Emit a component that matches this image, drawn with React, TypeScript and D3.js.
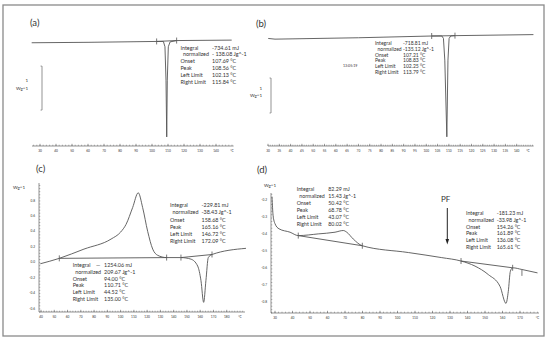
import * as d3 from "d3";

type Pt = [number, number];
type Row = [string, string];

// ---------- (a) ----------
const tempTicksA = [30, 40, 50, 60, 70, 80, 90, 100, 110, 120, 130, 140];
const curveA: Pt[] = [
  [24.8, -0.04], [60, -0.03], [102.9, -0.01], [107.1, -0.01], [108.1, -0.13],
  [108.75, -0.89], [109.2, -2.18], [109.56, -0.89], [110.2, -0.13], [111.3, -0.02],
  [115.4, 0.01], [149.8, 0.02],
];
const limitsA: Pt[] = [[102.9, -0.01], [115.4, 0.01]];
const barA: Pt = [-0.57, -1.57];
const statsA: Row[] = [
  ["Integral", "-734.61 mJ"],
  ["normalized", "- 138.08 Jg^-1"],
  ["Onset", "107.69 °C"],
  ["Peak", "108.56 °C"],
  ["Left Limit", "102.13 °C"],
  ["Right Limit", "115.84 °C"],
];

// ---------- (b) ----------
const tempTicksB = [
  30, 35, 40, 45, 50, 55, 60, 65, 70, 75, 80, 85, 90, 95, 100, 105, 110, 115,
  120, 125, 130, 135, 140,
];
const curveB: Pt[] = [
  [30.1, -0.07], [33.1, -0.09], [70, -0.05], [102.4, 0], [106.9, 0], [107.6, -0.07],
  [108.2, -0.69], [109.1, -2.88], [109.6, -0.69], [110.1, -0.07], [110.8, 0],
  [112.7, 0.01], [147.4, 0.04],
];
const limitsB: Pt[] = [[102.4, 0], [112.7, 0.01]];
const barB: Pt = [-1.2, -2.2];
const statsB: Row[] = [
  ["Integral", "-718.81 mJ"],
  ["normalized", "-135.12 Jg^-1"],
  ["Onset", "107.21 °C"],
  ["Peak", "108.83 °C"],
  ["Left Limit", "102.25 °C"],
  ["Right Limit", "113.79 °C"],
];

// ---------- (c) ----------
const tempTicksC = [40, 50, 60, 70, 80, 90, 100, 110, 120, 130, 140, 150, 160, 170, 180];
const heatTicksC = [0.8, 0.6, 0.4, 0.2, 0, -0.2, -0.4, -0.6];
const curveC: Pt[] = [
  [39.5, -0.02], [53.8, 0.05], [72.4, 0.17], [92.8, 0.3], [100, 0.39], [104.1, 0.49],
  [109.1, 0.71], [113.3, 0.9], [116.6, 0.71], [120.4, 0.4], [124.2, 0.17],
  [127.9, 0.09], [134.7, 0.06], [145.5, 0.06], [153, 0.04], [158.1, -0.05],
  [160.6, -0.24], [162.6, -0.52], [164.3, -0.24], [166.1, 0.06], [168.9, 0.1],
  [194.5, 0.18],
];
const baseC1: Pt[] = [[53.8, 0.05], [134.7, 0.06]];
const baseC2: Pt[] = [[145.5, 0.06], [168.9, 0.1]];
const limitsC: Pt[] = [[53.8, 0.05], [134.7, 0.06], [145.5, 0.06], [168.9, 0.1]];
const statsC1: Row[] = [
  ["Integral", "-229.81 mJ"],
  ["normalized", "-38.43 Jg^-1"],
  ["Onset", "158.68 °C"],
  ["Peak", "165.16 °C"],
  ["Left Limit", "146.72 °C"],
  ["Right Limit", "172.09 °C"],
];
const statsC2: Row[] = [
  ["Integral", "1254.06 mJ"],
  ["normalized", "209.67 Jg^-1"],
  ["Onset", "94.00 °C"],
  ["Peak", "110.71 °C"],
  ["Left Limit", "44.52 °C"],
  ["Right Limit", "135.00 °C"],
];

// ---------- (d) ----------
const tempTicksD = [30, 40, 50, 60, 70, 80, 90, 100, 110, 120, 130, 140, 150, 160, 170];
const heatTicksD = [-0.2, -0.3, -0.4, -0.5, -0.6, -0.7, -0.8];
const curveD: Pt[] = [
  [28.3, -0.18], [28.9, -0.29], [30, -0.34], [32.3, -0.37], [38.6, -0.39],
  [43.3, -0.41], [54.7, -0.4], [64.3, -0.39], [69, -0.38], [71, -0.39],
  [74.7, -0.43], [79.9, -0.47], [106.2, -0.51], [125.3, -0.54], [136.3, -0.56],
  [144.3, -0.59], [151.9, -0.64], [158.6, -0.71], [162, -0.81], [163.3, -0.74],
  [164.5, -0.62], [165.8, -0.6], [171.1, -0.61], [180, -0.63],
];
const baseD1: Pt[] = [[43.3, -0.41], [79.9, -0.47]];
const baseD2: Pt[] = [[136.3, -0.56], [165.8, -0.6]];
const limitsD: Pt[] = [[43.3, -0.41], [79.9, -0.47], [136.3, -0.56], [165.8, -0.6], [171.1, -0.63]];
const statsD1: Row[] = [
  ["Integral", "82.29 mJ"],
  ["normalized", "15.43 Jg^-1"],
  ["Onset", "50.42 °C"],
  ["Peak", "68.78 °C"],
  ["Left Limit", "43.07 °C"],
  ["Right Limit", "80.02 °C"],
];
const statsD2: Row[] = [
  ["Integral", "-181.23 mJ"],
  ["normalized", "-33.98 Jg^-1"],
  ["Onset", "154.26 °C"],
  ["Peak", "161.89 °C"],
  ["Left Limit", "136.08 °C"],
  ["Right Limit", "165.61 °C"],
];

const FONT = "Lato, 'Open Sans', sans-serif";
const INK = "#333";
const LINE = "#555";
const AXIS = "#666";

type Scale = d3.ScaleLinear<number, number>;

function Trace({ pts, x, y, curve = d3.curveLinear }: { pts: Pt[]; x: Scale; y: Scale; curve?: d3.CurveFactory }) {
  const line = d3.line<Pt>().x((d) => x(d[0])).y((d) => y(d[1])).curve(curve);
  return <path d={line(pts) ?? ""} fill="none" stroke={LINE} strokeWidth={0.9} />;
}

function Marks({ pts, x, y }: { pts: Pt[]; x: Scale; y: Scale }) {
  return (
    <g stroke={LINE} strokeWidth={0.8}>
      {pts.map((p, i) => (
        <line key={i} x1={x(p[0])} x2={x(p[0])} y1={y(p[1]) - 3} y2={y(p[1]) + 3} />
      ))}
    </g>
  );
}

function XAxis({ x, ticks, at, from, to }: { x: Scale; ticks: number[]; at: number; from: number; to: number }) {
  const step = ticks[1] - ticks[0];
  const m = step / 5;
  const start = ticks[0] - Math.floor((ticks[0] - from) / m) * m;
  const minors = d3.range(start, to, m);
  const unitAt = ticks[ticks.length - 1] + step;
  return (
    <g>
      <line x1={x(from)} x2={x(to)} y1={at} y2={at} stroke={AXIS} strokeWidth={0.7} />
      {minors.map((v, i) => (
        <line key={i} x1={x(v)} x2={x(v)} y1={at} y2={at - 1.3} stroke={AXIS} strokeWidth={0.5} />
      ))}
      {ticks.map((t) => (
        <line key={"t" + t} x1={x(t)} x2={x(t)} y1={at} y2={at - 2.2} stroke={AXIS} strokeWidth={0.6} />
      ))}
      <g fontSize={3.2} fill={INK} textAnchor="middle">
        {ticks.map((t) => (
          <text key={t} x={x(t)} y={at + 5.5}>{t}</text>
        ))}
        <text x={x(unitAt)} y={at + 5.5}>°C</text>
      </g>
    </g>
  );
}

function YAxis({ y, ticks, at, from, to }: { y: Scale; ticks: number[]; at: number; from: number; to: number }) {
  const step = ticks[0] - ticks[1];
  const m = step / 5;
  const minors = d3.range(to, from, m);
  return (
    <g>
      <line x1={at} x2={at} y1={y(from)} y2={y(to)} stroke={AXIS} strokeWidth={0.7} />
      {minors.map((v, i) => (
        <line key={i} x1={at} x2={at + 1.3} y1={y(v)} y2={y(v)} stroke={AXIS} strokeWidth={0.5} />
      ))}
      <g fontSize={3.2} fill={INK} textAnchor="end">
        {ticks.map((t) => (
          <text key={t} x={at - 4} y={y(t) + 1}>{t.toFixed(1)}</text>
        ))}
      </g>
    </g>
  );
}

function Stats({ rows, x, vx, y, dy, size }: { rows: Row[]; x: number; vx: number; y: number; dy: number; size: number }) {
  return (
    <g fontSize={size} fill={INK}>
      {rows.map((r, i) => (
        <g key={i}>
          <text x={i === 1 ? x + 2.5 : x} y={y + i * dy + size * 0.35}>{r[0]}</text>
          <text x={vx} y={y + i * dy + size * 0.35}>{r[1]}</text>
        </g>
      ))}
    </g>
  );
}

function ScaleBar({ y, v, at, labelX }: { y: Scale; v: Pt; at: number; labelX: number }) {
  const y0 = y(v[0]);
  const y1 = y(v[1]);
  const mid = (y0 + y1) / 2;
  return (
    <g>
      <line x1={at} x2={at} y1={y0} y2={y1} stroke={AXIS} strokeWidth={0.7} />
      <line x1={at - 1.5} x2={at} y1={y0} y2={y0} stroke={AXIS} strokeWidth={0.6} />
      <line x1={at - 1.5} x2={at} y1={y1} y2={y1} stroke={AXIS} strokeWidth={0.6} />
      <g fontSize={4.5} fill={INK} textAnchor="end">
        <text x={labelX} y={mid - 6}>1</text>
        <text x={labelX} y={mid + 1.5}>Wg^1</text>
      </g>
    </g>
  );
}

export default function App() {
  const xA = d3.scaleLinear().domain([30, 150]).range([40, 232]);
  const yA = d3.scaleLinear().domain([0, -1]).range([41, 85]);
  const xB = d3.scaleLinear().domain([30, 145]).range([268, 528]);
  const yB = d3.scaleLinear().domain([0, -1]).range([36, 71]);
  const xC = d3.scaleLinear().domain([40, 190]).range([41, 240]);
  const yC = d3.scaleLinear().domain([0.8, -0.6]).range([200.5, 308.5]);
  const xD = d3.scaleLinear().domain([30, 180]).range([275, 537.5]);
  const yD = d3.scaleLinear().domain([-0.2, -0.8]).range([200, 301.7]);

  return (
    <svg
      width={550}
      height={342}
      style={{ position: "absolute", left: 0, top: 0, background: "#fff" }}
      fontFamily={FONT}
    >
      <rect x={3} y={5} width={541} height={331} fill="none" stroke="#8a8a8a" strokeWidth={1.3} />

      {/* panel labels */}
      <g fontSize={9.5} fill={INK}>
        <text x={30} y={25.5}>(a)</text>
        <text x={256} y={26.5}>(b)</text>
        <text x={36} y={172}>(c)</text>
        <text x={257} y={173}>(d)</text>
      </g>

      {/* (a) */}
      <XAxis x={xA} ticks={tempTicksA} at={146} from={25} to={151} />
      <ScaleBar y={yA} v={barA} at={42} labelX={28} />
      <Trace pts={curveA} x={xA} y={yA} />
      <Trace pts={limitsA} x={xA} y={yA} />
      <Marks pts={limitsA} x={xA} y={yA} />
      <Stats rows={statsA} x={180.5} vx={212} y={47.7} dy={6.9} size={5.4} />

      {/* (b) */}
      <XAxis x={xB} ticks={tempTicksB} at={146} from={30} to={147.5} />
      <ScaleBar y={yB} v={barB} at={271} labelX={262} />
      <Trace pts={curveB} x={xB} y={yB} />
      <Trace pts={limitsB} x={xB} y={yB} />
      <Marks pts={limitsB} x={xB} y={yB} />
      <Stats rows={statsB} x={375} vx={403} y={43.5} dy={5.65} size={5} />
      <text x={343} y={66.5} fontSize={3.6} fill={INK}>13:05:19</text>

      {/* (c) */}
      <YAxis y={yC} ticks={heatTicksC} at={39} from={yC.invert(183)} to={yC.invert(312)} />
      <XAxis x={xC} ticks={tempTicksC} at={312} from={xC.invert(39)} to={xC.invert(245)} />
      <text x={25} y={189} fontSize={4.5} fill={INK} textAnchor="end">Wg^1</text>
      <Trace pts={curveC} x={xC} y={yC} curve={d3.curveMonotoneX} />
      <Trace pts={baseC1} x={xC} y={yC} />
      <Trace pts={baseC2} x={xC} y={yC} />
      <Marks pts={limitsC} x={xC} y={yC} />
      <Stats rows={statsC1} x={170} vx={201.5} y={205.5} dy={7.1} size={5.4} />
      <Stats rows={statsC2} x={72.7} vx={104} y={265.3} dy={6.7} size={5.4} />
      <text x={96} y={267.2} fontSize={5.4} fill={INK}>—</text>

      {/* (d) */}
      <YAxis y={yD} ticks={heatTicksD} at={271} from={yD.invert(193)} to={yD.invert(313)} />
      <XAxis x={xD} ticks={tempTicksD} at={313} from={xD.invert(271)} to={xD.invert(539)} />
      <text x={276} y={187} fontSize={4.5} fill={INK} textAnchor="end">Wg^1</text>
      <Trace pts={curveD} x={xD} y={yD} curve={d3.curveMonotoneX} />
      <Trace pts={baseD1} x={xD} y={yD} />
      <Trace pts={baseD2} x={xD} y={yD} />
      <Marks pts={limitsD} x={xD} y={yD} />
      <Stats rows={statsD1} x={296.7} vx={328.3} y={189.3} dy={7} size={5.3} />
      <Stats rows={statsD2} x={466} vx={496.7} y={213.3} dy={6.7} size={5.3} />
      <text x={441} y={202} fontSize={8} fill={INK}>PF</text>
      <line x1={447.3} x2={447.3} y1={208} y2={240} stroke="#222" strokeWidth={1} />
      <path d="M445.5,239 L449.1,239 L447.3,244.5 Z" fill="#222" />
    </svg>
  );
}
